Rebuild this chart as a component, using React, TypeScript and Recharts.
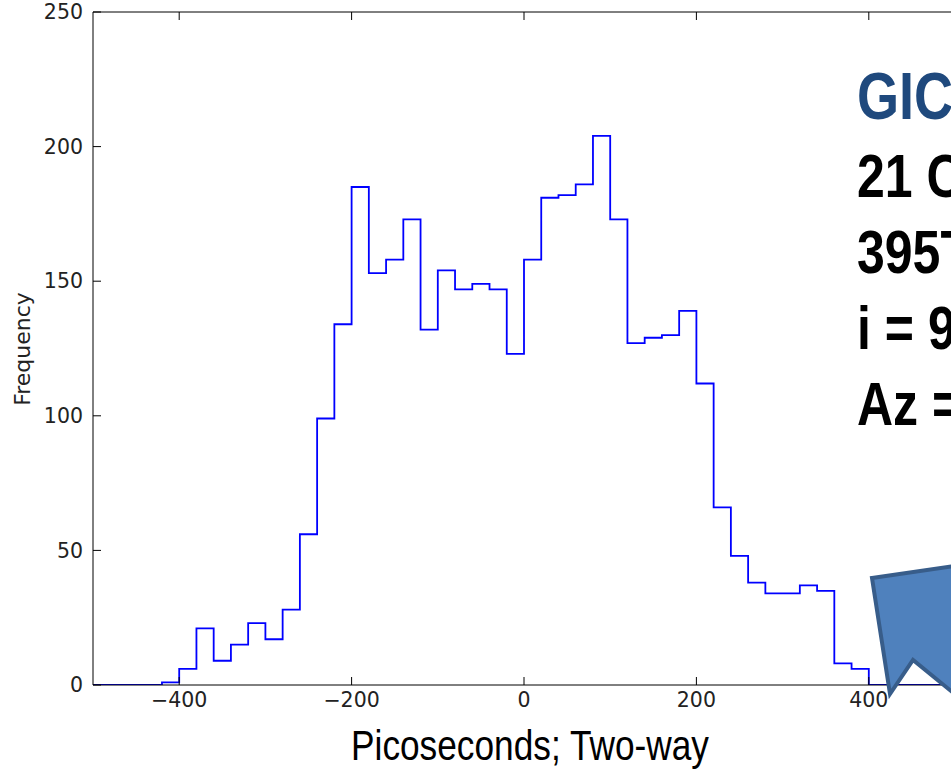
import { LineChart, Line, XAxis, YAxis } from "recharts";

// histogram of two-way delay residuals, 20 ps bins from -500 to 500
const binStarts = [
  -500, -480, -460, -440, -420, -400, -380, -360, -340, -320,
  -300, -280, -260, -240, -220, -200, -180, -160, -140, -120,
  -100, -80, -60, -40, -20, 0, 20, 40, 60, 80,
  100, 120, 140, 160, 180, 200, 220, 240, 260, 280,
  300, 320, 340, 360, 380, 400, 420, 440, 460, 480
];
const binEnd = 500;
const counts = [
  0, 0, 0, 0, 1, 6, 21, 9, 15, 23,
  17, 28, 56, 99, 134, 185, 153, 158, 173, 132,
  154, 147, 149, 147, 123, 158, 181, 182, 186, 204,
  173, 127, 129, 130, 139, 112, 66, 48, 38, 34,
  34, 37, 35, 8, 6, 0, 0, 0, 0, 0
];
const xTicks = [-400, -200, 0, 200, 400];
const yTicks = [0, 50, 100, 150, 200, 250];

const infoLines = ["21 C", "395T", "i = 9", "Az ="];

const data = binStarts
  .map((x, i) => ({ x, count: counts[i] }))
  .concat({ x: binEnd, count: counts[counts.length - 1] });

const tickFont = { fill: "#222", fontSize: 20.5, fontFamily: "DejaVu Sans" };
const fmt = (v: number) => (v < 0 ? `\u2212${Math.abs(v)}` : `${v}`);
const narrow = "'Liberation Sans', Arial, sans-serif";

export default function App() {
  return (
    <div
      style={{
        position: "absolute",
        left: 0,
        top: 0,
        width: 951,
        height: 769,
        overflow: "hidden",
        background: "#fff"
      }}
    >
      <LineChart width={1000} height={769} data={data} margin={{ top: 0, right: 45, bottom: 0, left: 0 }}>
        <XAxis
          dataKey="x"
          type="number"
          domain={[-500, 500]}
          ticks={xTicks}
          tickFormatter={fmt}
          height={84}
          tickSize={-8}
          tickMargin={15.5}
          stroke="#000"
          tickLine={{ stroke: "#000" }}
          axisLine={{ stroke: "#000" }}
          tick={tickFont}
          allowDataOverflow
        />
        <XAxis
          xAxisId="top"
          orientation="top"
          dataKey="x"
          type="number"
          domain={[-500, 500]}
          ticks={xTicks}
          tickFormatter={() => ""}
          height={12}
          tickSize={-8}
          axisLine={{ stroke: "#000" }}
          tickLine={{ stroke: "#000" }}
        />
        <YAxis
          domain={[0, 250]}
          ticks={yTicks}
          width={93}
          tickSize={-8}
          tickMargin={18}
          axisLine={{ stroke: "#000" }}
          tickLine={{ stroke: "#000" }}
          tick={tickFont}
          allowDataOverflow
        />
        <Line
          dataKey="count"
          type="stepAfter"
          stroke="#0000ff"
          strokeWidth={1.8}
          dot={false}
          isAnimationActive={false}
        />
      </LineChart>

      <svg
        width={951}
        height={769}
        style={{ position: "absolute", left: 0, top: 0, pointerEvents: "none" }}
      >
        <text
          x={30}
          y={349}
          transform="rotate(-90 30 349)"
          textAnchor="middle"
          fontFamily="DejaVu Sans"
          fontSize={22}
          fill="#222"
        >
          Frequency
        </text>
        <text
          transform="translate(530 760) scale(0.82 1)"
          textAnchor="middle"
          fontFamily={narrow}
          fontSize={43}
          fill="#000"
        >
          Picoseconds; Two-way
        </text>
        <text
          transform="translate(857 119) scale(0.82 1)"
          fontFamily={narrow}
          fontWeight="bold"
          fontSize={66}
          fill="#1f497d"
        >
          GIC
        </text>
        {infoLines.map((t, i) => (
          <text
            key={t}
            transform={`translate(857 ${197 + i * 76}) scale(0.82 1)`}
            fontFamily={narrow}
            fontWeight="bold"
            fontSize={61}
            fill="#000"
          >
            {t}
          </text>
        ))}
        <polygon
          points="872,578 962,565 962,700 913,660 890,694"
          fill="#4f81bd"
          stroke="#385d8a"
          strokeWidth={4}
          strokeLinejoin="miter"
        />
      </svg>
    </div>
  );
}
